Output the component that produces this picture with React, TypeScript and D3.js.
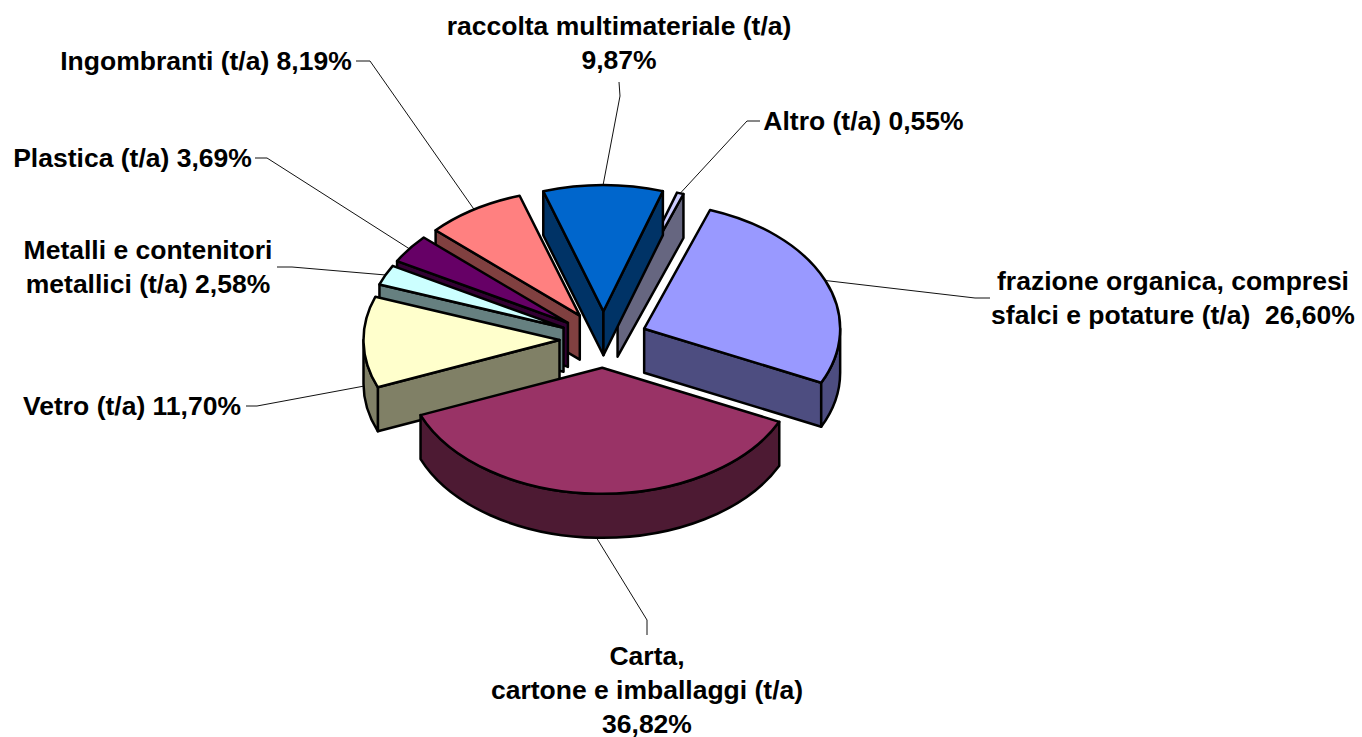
import * as d3 from "d3";

const categories = [
  "Carta, cartone e imballaggi (t/a)",
  "Vetro (t/a)",
  "Metalli e contenitori metallici (t/a)",
  "Plastica (t/a)",
  "Ingombranti (t/a)",
  "raccolta multimateriale (t/a)",
  "Altro (t/a)",
  "frazione organica, compresi sfalci e potature (t/a)",
];
const values = [36.82, 11.7, 2.58, 3.69, 8.19, 9.87, 0.55, 26.6];
const topColors = ["#993366", "#FFFFCC", "#CCFFFF", "#660066", "#FF8080", "#0066CC", "#CCCCFF", "#9999FF"];
const sideColors = ["#4D1A33", "#808066", "#668080", "#330033", "#804040", "#003366", "#666680", "#4D4D80"];
const labelLines = [
  ["Carta,", "cartone e imballaggi (t/a)", "36,82%"],
  ["Vetro (t/a) 11,70%"],
  ["Metalli e contenitori", "metallici (t/a) 2,58%"],
  ["Plastica (t/a) 3,69%"],
  ["Ingombranti (t/a) 8,19%"],
  ["raccolta multimateriale (t/a)", "9,87%"],
  ["Altro (t/a) 0,55%"],
  ["frazione organica, compresi", "sfalci e potature (t/a)  26,60%"],
];
// label centre x, first baseline y, and the leader polyline start + elbow
const labelPos = [
  { x: 647, y: 665, from: [647, 635], elbow: [647, 620] },
  { x: 132, y: 415, from: [246, 406], elbow: [257, 406] },
  { x: 148, y: 259, from: [277, 267], elbow: [292, 267] },
  { x: 132.5, y: 167, from: [255, 158], elbow: [267, 158] },
  { x: 206, y: 70, from: [356, 61], elbow: [370, 61] },
  { x: 619, y: 35, from: [619, 82], elbow: [620, 96] },
  { x: 863.5, y: 130, from: [760, 121], elbow: [747, 121] },
  { x: 1173, y: 290, from: [990, 298], elbow: [975, 298] },
];
// back-to-front painting order
const paintOrder = [6, 5, 4, 3, 2, 1, 7, 0];

const cx = 603.5;
const cy = 339.5;
const rx = 196;
const squash = 0.643;
const ry = rx * squash;
const depth = 44;
const explode = 44;
const startDeg = 25.4;

const rad = Math.PI / 180;
// d3.pie works clockwise from its start; here 0 is the +x axis, y going down
const pie = d3.pie<number>().sort(null).startAngle(startDeg * rad).endAngle((startDeg + 360) * rad);
const arcs = pie(values);

const pt = (c: number[], r: number, a: number): number[] => [c[0] + r * Math.cos(a), c[1] + r * squash * Math.sin(a)];
const fmt = (p: number[]) => `${p[0].toFixed(2)},${p[1].toFixed(2)}`;

function sliceShapes(i: number) {
  const a0 = arcs[i].startAngle;
  const a1 = arcs[i].endAngle;
  const mid = (a0 + a1) / 2;
  const c = pt([cx, cy], explode, mid);
  const down = (p: number[]) => [p[0], p[1] + depth];
  const p0 = pt(c, rx, a0);
  const p1 = pt(c, rx, a1);
  const large = a1 - a0 > Math.PI ? 1 : 0;
  const top = `M${fmt(c)}L${fmt(p0)}A${rx},${ry} 0 ${large} 1 ${fmt(p1)}Z`;
  const walls: string[] = [];
  // radial walls facing the viewer
  if (Math.sin(a0 - Math.PI / 2) > 0) walls.push(`M${fmt(c)}L${fmt(p0)}L${fmt(down(p0))}L${fmt(down(c))}Z`);
  if (Math.sin(a1 + Math.PI / 2) > 0) walls.push(`M${fmt(c)}L${fmt(p1)}L${fmt(down(p1))}L${fmt(down(c))}Z`);
  // outer rim wall, only the part in the front half of the ellipse
  for (const k of [0, 2]) {
    const s = Math.max(a0, k * Math.PI);
    const e = Math.min(a1, (k + 1) * Math.PI);
    if (e > s) {
      const ps = pt(c, rx, s);
      const pe = pt(c, rx, e);
      walls.push(`M${fmt(ps)}A${rx},${ry} 0 0 1 ${fmt(pe)}L${fmt(down(pe))}A${rx},${ry} 0 0 0 ${fmt(down(ps))}Z`);
    }
  }
  const rim = pt(c, rx, mid);
  const anchor = Math.sin(mid) > 0 ? down(rim) : rim;
  return { top, walls, anchor };
}

const leaderLine = d3.line();

export default function App() {
  const fontSize = 26.5;
  const lineH = 34;
  return (
    <svg width={1362} height={737} style={{ position: "absolute", left: 0, top: 0, background: "#fff" }}>
      <g fill="none" stroke="#111" strokeWidth={1}>
        {categories.map((name, i) => {
          const s = sliceShapes(i);
          const p = labelPos[i];
          return (
            <path
              key={name}
              d={leaderLine([p.from, p.elbow, s.anchor] as [number, number][]) || ""}
            />
          );
        })}
      </g>
      <g stroke="#000" strokeWidth={2.5} strokeLinejoin="round">
        {paintOrder.map((i) => {
          const s = sliceShapes(i);
          return (
            <g key={categories[i]}>
              {s.walls.map((d, j) => (
                <path key={j} d={d} fill={sideColors[i]} />
              ))}
              <path d={s.top} fill={topColors[i]} />
            </g>
          );
        })}
      </g>
      <g fontFamily="'Liberation Sans', Arial, sans-serif" fontWeight="bold" fontSize={fontSize} fill="#000" textAnchor="middle">
        {labelLines.map((lines, i) => (
          <text key={categories[i]} xmlSpace="preserve">
            {lines.map((t, j) => (
              <tspan key={j} x={labelPos[i].x} y={labelPos[i].y + j * lineH}>
                {t}
              </tspan>
            ))}
          </text>
        ))}
      </g>
    </svg>
  );
}
